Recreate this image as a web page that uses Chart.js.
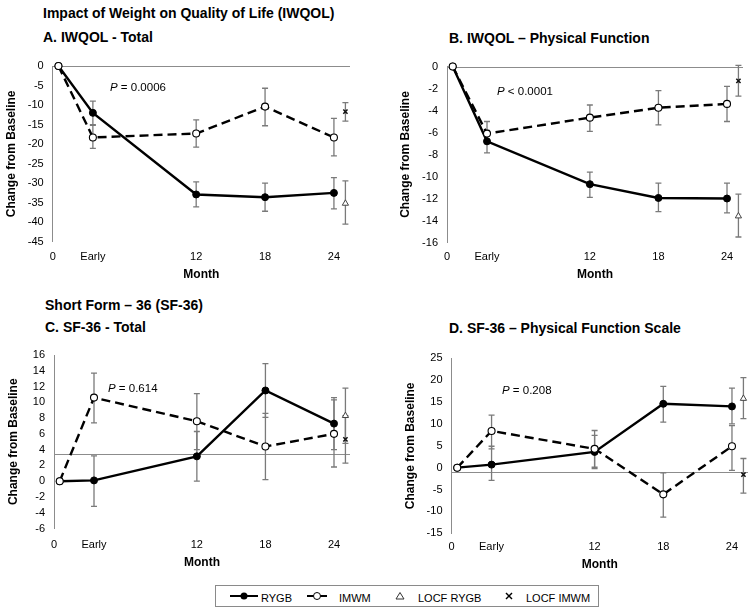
<!DOCTYPE html>
<html>
<head>
<meta charset="utf-8">
<script src="https://cdn.jsdelivr.net/npm/chart.js@4.4.1/dist/chart.umd.min.js"></script>
<style>
  body { margin: 0; background: #fff; }
  #page { position: relative; width: 754px; height: 614px; overflow: hidden;
          font-family: 'Liberation Sans', Arial, sans-serif; color: #000; }
  canvas { position: absolute; }
  .head { position: absolute; font-weight: bold; font-size: 14px; line-height: 16px; white-space: nowrap; }
  .pval { position: absolute; font-size: 11.5px; line-height: 14px; white-space: nowrap; z-index: 2; }
  #legend { position: absolute; left: 215px; top: 585px; width: 382px; height: 20px; border: 1px solid #8a8a8a; }
  .lg { position: absolute; font-size: 11px; line-height: 14px; white-space: nowrap; top: 5px; }
  .lg svg { position: absolute; }
</style>
</head>
<body>
<div id="page">
  <div class="head" style="left:43px; top:5px;">Impact of Weight on Quality of Life (IWQOL)</div>
  <div class="head" style="left:43px; top:29px;">A. IWQOL - Total</div>
  <div class="head" style="left:449px; top:30px;">B. IWQOL – Physical Function</div>
  <div class="head" style="left:45px; top:297px;">Short Form – 36 (SF-36)</div>
  <div class="head" style="left:45px; top:319px;">C. SF-36 - Total</div>
  <div class="head" style="left:449px; top:320px;">D. SF-36 – Physical Function Scale</div>

  <canvas id="chartA" width="377" height="244" style="left:0px; top:46px;"></canvas>
  <canvas id="chartB" width="377" height="244" style="left:377px; top:46px;"></canvas>
  <canvas id="chartC" width="377" height="245" style="left:0px; top:335px;"></canvas>
  <canvas id="chartD" width="377" height="245" style="left:377px; top:335px;"></canvas>

  <div class="pval" style="left:110px; top:80px;"><i>P</i> = 0.0006</div>
  <div class="pval" style="left:497px; top:84px;"><i>P</i> &lt; 0.0001</div>
  <div class="pval" style="left:108px; top:381px;"><i>P</i> = 0.614</div>
  <div class="pval" style="left:502px; top:383px;"><i>P</i> = 0.208</div>

  <div id="legend">
    <div class="lg" style="left:14px; top:0;">
      <svg width="30" height="20" style="left:0; top:0;"><line x1="0" y1="10" x2="28" y2="10" stroke="#000" stroke-width="2"/><circle cx="14" cy="10" r="3.5" fill="#000"/></svg>
    </div>
    <div class="lg" style="left:45px;">RYGB</div>
    <div class="lg" style="left:91px; top:0;">
      <svg width="22" height="20" style="left:0; top:0;"><line x1="0" y1="10" x2="20" y2="10" stroke="#000" stroke-width="2"/><circle cx="10" cy="10" r="3.5" fill="#fff" stroke="#000" stroke-width="1"/></svg>
    </div>
    <div class="lg" style="left:123px;">IMWM</div>
    <div class="lg" style="left:178px; top:0;">
      <svg width="12" height="20" style="left:0; top:0;"><polygon points="6,6.5 10,13 2,13" fill="#fff" stroke="#333" stroke-width="1"/></svg>
    </div>
    <div class="lg" style="left:202px;">LOCF RYGB</div>
    <div class="lg" style="left:287px; top:0;">
      <svg width="12" height="20" style="left:0; top:0;"><line x1="3" y1="7" x2="9" y2="13" stroke="#000" stroke-width="1.5"/><line x1="9" y1="7" x2="3" y2="13" stroke="#000" stroke-width="1.5"/></svg>
    </div>
    <div class="lg" style="left:310px;">LOCF IMWM</div>
  </div>
</div>

<script>
// Time points (months); "Early" is plotted at month 3, LOCF values just after 24
const months = [0, 3, 12, 18, 24];
const locfMonth = [25];
const tickValues = [-0.5, 3, 12, 18, 24];
const tickLabels = ['0', 'Early', '12', '18', '24'];

// A. IWQOL - Total
const aRygb = [0, -12.0, -32.9, -33.6, -32.5];
const aRygbErr = [null, [-15.0, -9.0], [-36.1, -29.7], [-37.2, -30.0], [-36.6, -28.6]];
const aImwm = [0, -18.3, -17.3, -10.4, -18.3];
const aImwmErr = [null, [-21.1, -15.2], [-20.8, -13.8], [-15.3, -5.7], [-23.0, -13.4]];
const aLocfRygb = [-35.2];
const aLocfRygbErr = [[-40.5, -29.4]];
const aLocfImwm = [-11.7];
const aLocfImwmErr = [[-14.1, -9.4]];

// B. IWQOL - Physical Function
const bRygb = [0, -6.8, -10.7, -11.95, -12.0];
const bRygbErr = [null, [-7.85, -5.8], [-11.9, -9.6], [-13.2, -10.6], [-13.3, -10.6]];
const bImwm = [0, -6.1, -4.65, -3.75, -3.4];
const bImwmErr = [null, [-7.0, -5.0], [-5.9, -3.5], [-5.3, -2.2], [-5.0, -1.8]];
const bLocfRygb = [-13.6];
const bLocfRygbErr = [[-15.5, -11.6]];
const bLocfImwm = [-1.3];
const bLocfImwmErr = [[-2.7, 0.1]];

// C. SF-36 - Total
const cRygb = [0, 0.1, 3.15, 11.5, 7.3];
const cRygbErr = [null, [-3.2, 3.2], [0, 6.3], [8.1, 14.9], [4.0, 10.6]];
const cImwm = [0, 10.6, 7.6, 4.4, 6.0];
const cImwmErr = [null, [7.4, 13.7], [4.0, 11.1], [0.2, 8.6], [1.8, 10.3]];
const cLocfRygb = [8.3];
const cLocfRygbErr = [[4.8, 11.8]];
const cLocfImwm = [5.3];
const cLocfImwmErr = [[2.3, 8.3]];

// D. SF-36 - Physical Function Scale
const dRygb = [0, 0.7, 3.6, 14.6, 14.0];
const dRygbErr = [null, [-2.9, 4.9], [-0.2, 7.4], [10.4, 18.6], [10.0, 18.2]];
const dImwm = [0, 8.4, 4.3, -6.1, 4.9];
const dImwmErr = [null, [4.3, 12.0], [0.1, 8.5], [-11.3, -1.2], [-0.6, 9.6]];
const dLocfRygb = [15.8];
const dLocfRygbErr = [[11.2, 20.6]];
const dLocfImwm = [-1.6];
const dLocfImwmErr = [[-5.8, 2.1]];

// where the horizontal axis crosses in each panel
const axisCross = [0, 0, 3.5, -1.1];

Chart.defaults.font.family = "'Liberation Sans', Arial, sans-serif";
Chart.defaults.color = '#000';

// vertical error bars with small caps
const errorBars = {
    id: 'errorBars',
    beforeDatasetsDraw(chart) {
        const { ctx, scales: { x, y } } = chart;
        ctx.save();
        ctx.strokeStyle = '#7a7a7a';
        ctx.lineWidth = 1.3;
        chart.data.datasets.forEach(ds => {
            if (!ds.err) return;
            ds.data.forEach((pt, i) => {
                const e = ds.err[i];
                if (!e) return;
                const px = x.getPixelForValue(pt.x);
                const y1 = y.getPixelForValue(e[0]);
                const y2 = y.getPixelForValue(e[1]);
                ctx.beginPath();
                ctx.moveTo(px, y1); ctx.lineTo(px, y2);
                ctx.moveTo(px - 3, y1); ctx.lineTo(px + 3, y1);
                ctx.moveTo(px - 3, y2); ctx.lineTo(px + 3, y2);
                ctx.stroke();
            });
        });
        ctx.restore();
    }
};

// horizontal axis line (crosses at a given value)
const crossLine = {
    id: 'crossLine',
    beforeDatasetsDraw(chart, args, opts) {
        const { ctx, chartArea, scales: { y } } = chart;
        const py = Math.round(y.getPixelForValue(opts.value)) + 0.5;
        ctx.save();
        ctx.strokeStyle = '#8c8c8c';
        ctx.lineWidth = 1;
        ctx.beginPath();
        ctx.moveTo(chartArea.left, py);
        ctx.lineTo(chartArea.right, py);
        ctx.stroke();
        ctx.restore();
    }
};

function points(xs, values) {
    return values.map((v, i) => ({ x: xs[i], y: v }));
}

function makePanel(id, box, yMin, yMax, yStep, cross, d) {
    const [cx, cy, cw, ch] = box.canvas;
    const [l, t, r, b] = box.area;

    const datasets = [
        {
            label: 'LOCF RYGB', data: points(locfMonth, d.locfRygb), err: d.locfRygbErr,
            showLine: false, pointStyle: 'triangle', pointRadius: 3.6,
            pointBackgroundColor: '#fff', pointBorderColor: '#444', pointBorderWidth: 1, order: 0, clip: false
        },
        {
            label: 'LOCF IMWM', data: points(locfMonth, d.locfImwm), err: d.locfImwmErr,
            showLine: false, pointStyle: 'crossRot', pointRadius: 3,
            pointBorderColor: '#111', pointBorderWidth: 1.5, order: 0, clip: false
        },
        {
            label: 'IMWM', data: points(months, d.imwm), err: d.imwmErr,
            borderColor: '#000', borderWidth: 2.4, borderDash: [9, 5],
            pointRadius: 3.5, pointBackgroundColor: '#fff', pointBorderColor: '#000', pointBorderWidth: 1.1,
            order: 1, clip: false
        },
        {
            label: 'RYGB', data: points(months, d.rygb), err: d.rygbErr,
            borderColor: '#000', borderWidth: 2.4,
            pointRadius: 3.5, pointBackgroundColor: '#000', pointBorderColor: '#000', pointBorderWidth: 1,
            order: 2, clip: false
        }
    ];

    new Chart(document.getElementById(id), {
        type: 'line',
        data: { datasets },
        options: {
            responsive: false,
            animation: false,
            events: [],
            layout: { padding: { left: 0, top: t - cy, right: cx + cw - r, bottom: 0 } },
            plugins: {
                legend: { display: false },
                tooltip: { enabled: false },
                crossLine: { value: cross }
            },
            scales: {
                x: {
                    type: 'linear', min: -0.5, max: 25.4,
                    grid: { display: false, drawTicks: false },
                    border: { display: false },
                    afterBuildTicks: s => { s.ticks = tickValues.map(v => ({ value: v })); },
                    afterFit: s => { s.height = cy + ch - b; },
                    ticks: {
                        autoSkip: false, maxRotation: 0, padding: box.xLabelY - b - 6.6,
                        font: { size: 11 },
                        callback: (v, i) => tickLabels[i]
                    },
                    title: {
                        display: true, text: 'Month', font: { size: 12, weight: 'bold' },
                        padding: { top: 0, bottom: cy + ch - box.xTitleY - 7.2 }
                    }
                },
                y: {
                    min: yMin, max: yMax,
                    grid: { display: false, drawTicks: false },
                    border: { display: true, color: '#8c8c8c', width: 1 },
                    afterFit: s => { s.width = l - cx; },
                    ticks: { stepSize: yStep, autoSkip: false, padding: 9, font: { size: 11 } },
                    title: {
                        display: true, text: 'Change from Baseline', font: { size: 12, weight: 'bold' },
                        padding: { top: box.yTitleX - cx - 7.2, bottom: 0 }
                    }
                }
            }
        },
        plugins: [crossLine, errorBars]
    });
}

makePanel('chartA',
    { canvas: [0, 46, 377, 244], area: [52.7, 66, 350, 241.7], yTitleX: 12, xLabelY: 256.7, xTitleY: 275 },
    -45, 0, 5, axisCross[0],
    { rygb: aRygb, rygbErr: aRygbErr, imwm: aImwm, imwmErr: aImwmErr,
      locfRygb: aLocfRygb, locfRygbErr: aLocfRygbErr, locfImwm: aLocfImwm, locfImwmErr: aLocfImwmErr });

makePanel('chartB',
    { canvas: [377, 46, 377, 244], area: [447, 66.5, 743, 242.5], yTitleX: 406, xLabelY: 257.3, xTitleY: 275 },
    -16, 0, 2, axisCross[1],
    { rygb: bRygb, rygbErr: bRygbErr, imwm: bImwm, imwmErr: bImwmErr,
      locfRygb: bLocfRygb, locfRygbErr: bLocfRygbErr, locfImwm: bLocfImwm, locfImwmErr: bLocfImwmErr });

makePanel('chartC',
    { canvas: [0, 335, 377, 245], area: [54, 355, 350, 528.5], yTitleX: 14, xLabelY: 545, xTitleY: 563 },
    -6, 16, 2, axisCross[2],
    { rygb: cRygb, rygbErr: cRygbErr, imwm: cImwm, imwmErr: cImwmErr,
      locfRygb: cLocfRygb, locfRygbErr: cLocfRygbErr, locfImwm: cLocfImwm, locfImwmErr: cLocfImwmErr });

makePanel('chartD',
    { canvas: [377, 335, 377, 245], area: [451.5, 358.3, 748, 533.3], yTitleX: 411, xLabelY: 547, xTitleY: 565 },
    -15, 25, 5, axisCross[3],
    { rygb: dRygb, rygbErr: dRygbErr, imwm: dImwm, imwmErr: dImwmErr,
      locfRygb: dLocfRygb, locfRygbErr: dLocfRygbErr, locfImwm: dLocfImwm, locfImwmErr: dLocfImwmErr });
</script>
</body>
</html>
